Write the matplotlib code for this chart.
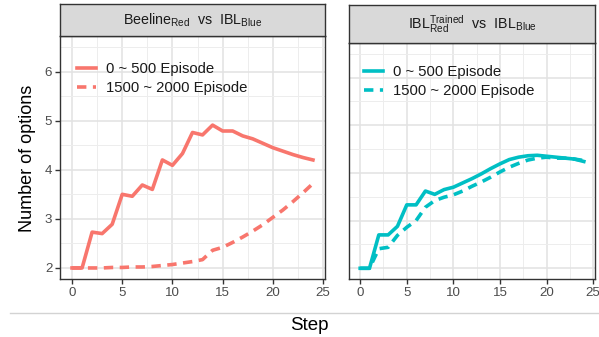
import matplotlib
matplotlib.use("Agg")
import matplotlib.pyplot as plt
from matplotlib.lines import Line2D

plt.rcParams['font.family'] = ['Liberation Sans', 'DejaVu Sans']
plt.rcParams['mathtext.fontset'] = 'custom'
plt.rcParams['mathtext.rm'] = 'Liberation Sans'
plt.rcParams['mathtext.it'] = 'Liberation Sans'

steps = list(range(25))

beeline_early = [2.00, 2.00, 2.73, 2.70, 2.89, 3.50, 3.46, 3.69, 3.60, 4.20, 4.09, 4.33,
                 4.76, 4.71, 4.91, 4.79, 4.79, 4.69, 4.63, 4.54, 4.45, 4.38, 4.31, 4.25, 4.20]
beeline_late = [2.00, 2.00, 2.00, 2.00, 2.01, 2.01, 2.02, 2.02, 2.03, 2.05, 2.07, 2.10,
                2.13, 2.17, 2.36, 2.42, 2.52, 2.63, 2.75, 2.88, 3.03, 3.18, 3.35, 3.53, 3.72]
trained_early = [2.00, 2.00, 2.70, 2.70, 2.88, 3.33, 3.33, 3.62, 3.55, 3.65, 3.70, 3.79,
                 3.88, 3.98, 4.09, 4.19, 4.28, 4.33, 4.36, 4.37, 4.35, 4.33, 4.31, 4.29, 4.24]
trained_late = [2.00, 2.00, 2.41, 2.44, 2.69, 2.86, 3.00, 3.28, 3.42, 3.49, 3.54, 3.62,
                3.72, 3.81, 3.91, 4.02, 4.12, 4.20, 4.27, 4.31, 4.33, 4.31, 4.31, 4.29, 4.26]

series_labels = ["0 ~ 500 Episode", "1500 ~ 2000 Episode"]
x_ticks = [0, 5, 10, 15, 20, 25]
y_ticks = [2, 3, 4, 5, 6]
strip_titles = [r"$\mathrm{Beeline}_{\mathrm{Red}}$  vs  $\mathrm{IBL}_{\mathrm{Blue}}$",
                r"$\mathrm{IBL}_{\mathrm{Red}}^{\mathrm{Trained}}$  vs  $\mathrm{IBL}_{\mathrm{Blue}}$"]

RED = "#F8766D"
TEAL = "#00BFC4"
W, H = 599, 337

fig = plt.figure(figsize=(W / 100, H / 100), dpi=100)


def fbox(x0, y0, x1, y1):
    """Pixel box (top-left origin) -> figure rect."""
    return [x0 / W, (H - y1) / H, (x1 - x0) / W, (y1 - y0) / H]


def style_panel(ax, show_y):
    ax.set_xlim(-1.2, 25.2)
    ax.set_ylim(2 - 0.225, 6.5 + 0.225)
    ax.set_xticks(x_ticks)
    ax.set_yticks(y_ticks)
    ax.set_xticks([2.5, 7.5, 12.5, 17.5, 22.5], minor=True)
    ax.set_yticks([2.5, 3.5, 4.5, 5.5, 6.5], minor=True)
    ax.grid(True, which='major', color='#E2E2E2', linewidth=1.1, zorder=0)
    ax.grid(True, which='minor', color='#EDEDED', linewidth=0.7, zorder=0)
    ax.set_axisbelow(True)
    for s in ax.spines.values():
        s.set_color('#333333')
        s.set_linewidth(1.0)
    ax.tick_params(which='major', length=3.5, width=1.0, color='#333333',
                   labelcolor='#4D4D4D', labelsize=9.6, pad=2)
    ax.tick_params(which='minor', length=0)
    if not show_y:
        ax.tick_params(axis='y', which='major', length=0, labelleft=False)


def strip(rect, title):
    sax = fig.add_axes(rect)
    sax.set_xticks([])
    sax.set_yticks([])
    sax.set_facecolor('#D9D9D9')
    for s in sax.spines.values():
        s.set_color('#333333')
        s.set_linewidth(1.0)
    sax.text(0.5, 0.5, title, ha='center', va='center', fontsize=10.3,
             color='#1A1A1A', transform=sax.transAxes)


panels = [
    (fbox(60, 36, 325, 279), fbox(60, 4, 325, 36), RED, beeline_early, beeline_late, True, (77, 62)),
    (fbox(349, 43, 595, 279), fbox(349, 5, 595, 43), TEAL, trained_early, trained_late, False, (364, 65)),
]

for i, (prect, srect, col, early, late, show_y, leg_xy) in enumerate(panels):
    ax = fig.add_axes(prect)
    style_panel(ax, show_y)
    l1, = ax.plot(steps, early, color=col, linewidth=2.6, zorder=3)
    l2, = ax.plot(steps, late, color=col, linewidth=2.6, linestyle=(0, (2.6, 1.8)), zorder=3)
    ax.legend([l1, l2], series_labels, loc='upper left', frameon=False,
              bbox_to_anchor=(leg_xy[0] / W, 1 - leg_xy[1] / H),
              bbox_transform=fig.transFigure, borderpad=0, borderaxespad=0,
              handlelength=1.25, handletextpad=0.7, labelspacing=0.35,
              fontsize=10.7, labelcolor='#1A1A1A')
    strip(srect, strip_titles[i])

fig.text(28 / W, 1 - 158 / H, "Number of options", rotation=90, ha='center', va='center',
         fontsize=13, color='black')
fig.text(309 / W, 1 - 325 / H, "Step", ha='center', va='center', fontsize=13.5, color='black')
fig.add_artist(Line2D([10 / W, 1.0], [1 - 313 / H, 1 - 313 / H], color='#D3D3D3',
                      linewidth=1.0, transform=fig.transFigure))

fig.savefig("out.png", dpi=100)
